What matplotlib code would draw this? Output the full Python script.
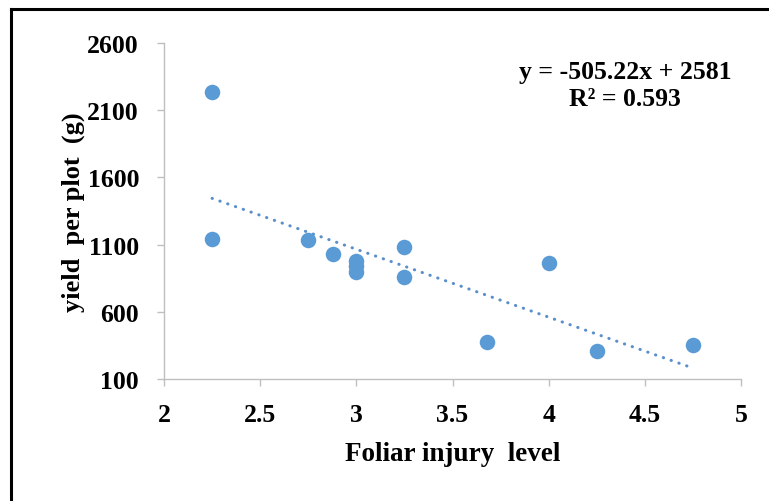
import matplotlib
matplotlib.use("Agg")
import matplotlib.pyplot as plt
from matplotlib.lines import Line2D
import numpy as np

injury = [2.25, 2.25, 2.75, 2.88, 3.0, 3.0, 3.0, 3.25, 3.25, 3.68, 4.0, 4.25, 4.75]
yield_g = [2235, 1142, 1134, 1030, 978, 941, 896, 1082, 859, 375, 963, 308, 353]
slope = -505.22
intercept = 2581
r2 = 0.593
xticks = [2, 2.5, 3, 3.5, 4, 4.5, 5]
xtick_labels = ["2", "2.5", "3", "3.5", "4", "4.5", "5"]
yticks = [100, 600, 1100, 1600, 2100, 2600]

plt.rcParams['font.family'] = ['Liberation Serif', 'DejaVu Serif']
plt.rcParams['font.weight'] = 'bold'

fig = plt.figure(figsize=(7.69, 5.02), dpi=100)
ax = fig.add_axes([164/769, 1-380/502, (741-164)/769, (380-44)/502])

blue = '#5B9BD5'
ax.scatter(injury, yield_g, s=125, color=blue, zorder=3, linewidths=0)

tx = np.array([min(injury), max(injury)])
ax.plot(tx, slope*tx + intercept, color='#5B8FCB', lw=2.2,
        linestyle=(0, (0.1, 2.6)), dash_capstyle='round', zorder=2)

ax.set_xlim(2, 5)
ax.set_ylim(100, 2600)
ax.set_xticks(xticks)
ax.set_xticklabels(xtick_labels)
ax.set_yticks(yticks)

for s in ['top', 'right']:
    ax.spines[s].set_visible(False)
for s in ['left', 'bottom']:
    ax.spines[s].set_color('#BFBFBF')
    ax.spines[s].set_linewidth(1.0)
ax.tick_params(axis='both', colors='#BFBFBF', length=5, width=1.0,
               labelcolor='black', labelsize=18.5)
ax.tick_params(axis='x', pad=12)
ax.tick_params(axis='y', pad=13)
for lab in ax.get_xticklabels() + ax.get_yticklabels():
    lab.set_fontweight('bold')

ax.set_xlabel('Foliar injury  level', fontsize=19.5, fontweight='bold', labelpad=11)
ax.set_ylabel('yield  per plot  (g)', fontsize=19, fontweight='bold', labelpad=2)

ax.text(625/769, 1-72/502, 'y = -505.22x + 2581', transform=fig.transFigure,
        ha='center', va='center', fontsize=18.5, fontweight='bold')
ax.text(625/769, 1-100/502, 'R² = 0.593', transform=fig.transFigure,
        ha='center', va='center', fontsize=18.5, fontweight='bold')

# black frame on top and left
fig.add_artist(Line2D([11/769, 11/769], [0, 1-10/502], transform=fig.transFigure,
                      color='black', lw=2.2))
fig.add_artist(Line2D([11/769, 1], [1-10/502, 1-10/502], transform=fig.transFigure,
                      color='black', lw=2.2))

fig.savefig('out.png', dpi=100)
